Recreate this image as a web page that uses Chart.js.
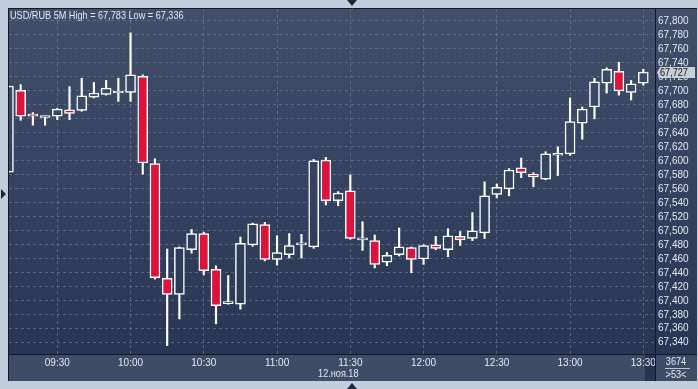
<!DOCTYPE html>
<html>
<head>
<meta charset="utf-8">
<title>USD/RUB 5M</title>
<script src="https://cdn.jsdelivr.net/npm/chart.js@4.4.0/dist/chart.umd.min.js"></script>
<style>
  html, body { margin: 0; padding: 0; background: #c2cedb; }
  #wrap { position: relative; width: 698px; height: 389px; }
</style>
</head>
<body>
<div id="wrap"><canvas id="chart"></canvas></div>
<script>
// 5 minute candles, 12 Nov 2018
const times = ['09:10','09:15','09:20','09:25','09:30','09:35','09:40','09:45','09:50','09:55',
  '10:00','10:05','10:10','10:15','10:20','10:25','10:30','10:35','10:40','10:45','10:50','10:55',
  '11:00','11:05','11:10','11:15','11:20','11:25','11:30','11:35','11:40','11:45','11:50','11:55',
  '12:00','12:05','12:10','12:15','12:20','12:25','12:30','12:35','12:40','12:45','12:50','12:55',
  '13:00','13:05','13:10','13:15','13:20','13:25','13:30'];
const open = [67.584,67.701,67.667,67.662,67.664,67.673,67.672,67.691,67.695,67.697,
  67.698,67.721,67.596,67.432,67.409,67.473,67.496,67.445,67.396,67.395,67.480,67.509,
  67.459,67.466,67.480,67.477,67.601,67.543,67.557,67.487,67.486,67.455,67.466,67.476,
  67.460,67.480,67.473,67.492,67.489,67.497,67.552,67.560,67.590,67.581,67.574,67.608,
  67.610,67.654,67.677,67.711,67.728,67.698,67.711];
const high = [67.707,67.709,67.669,67.664,67.675,67.706,67.718,67.712,67.715,67.718,
  67.783,67.723,67.603,67.474,67.477,67.502,67.498,67.450,67.436,67.491,67.511,67.512,
  67.493,67.496,67.495,67.602,67.605,67.556,67.580,67.513,67.494,67.469,67.504,67.477,
  67.480,67.492,67.503,67.499,67.526,67.570,67.567,67.589,67.604,67.583,67.613,67.620,
  67.690,67.677,67.718,67.733,67.741,67.715,67.731];
const low = [67.584,67.658,67.651,67.651,67.659,67.659,67.671,67.690,67.694,67.685,
  67.685,67.581,67.431,67.336,67.374,67.468,67.437,67.367,67.395,67.388,67.478,67.457,
  67.451,67.461,67.461,67.475,67.537,67.536,67.488,67.472,67.447,67.450,67.464,67.440,
  67.452,67.473,67.463,67.479,67.486,67.489,67.547,67.550,67.576,67.563,67.573,67.579,
  67.608,67.631,67.660,67.697,67.694,67.687,67.708];
const close = [67.707,67.664,67.664,67.662,67.674,67.668,67.693,67.697,67.704,67.697,
  67.723,67.597,67.433,67.409,67.476,67.496,67.443,67.393,67.396,67.482,67.510,67.459,
  67.469,67.479,67.480,67.600,67.543,67.554,67.489,67.487,67.452,67.465,67.477,67.459,
  67.479,67.475,67.493,67.487,67.500,67.550,67.562,67.587,67.583,67.577,67.610,67.608,
  67.656,67.674,67.713,67.731,67.700,67.710,67.727];

const timeTicks = ['09:30','10:00','10:30','11:00','11:30','12:00','12:30','13:00','13:30'];
const priceTicks = [67.34,67.36,67.38,67.40,67.42,67.44,67.46,67.48,67.50,67.52,67.54,67.56,
  67.58,67.60,67.62,67.64,67.66,67.68,67.70,67.72,67.74,67.76,67.78,67.80];
const title = 'USD/RUB 5M High = 67,783 Low = 67,336';
const dateLabel = '12.ноя.18';
const barCount = '3674';
const visibleCount = '>53<';

const yMin = 67.3239, yMax = 67.8171;
const xMin = 10.22, xMax = 274.79;

const FONT = "'Liberation Sans Narrow', 'Liberation Sans', Arial, sans-serif";
const TEXT = '#e3e8f1';
const RED = '#dc143c';
const PANEL_RIGHT = 697, PANEL_BOTTOM = 381;
const SQUEEZE = 0.83; // the original uses a narrow face

function minutes(t) {
  const p = t.split(':');
  return (+p[0]) * 60 + (+p[1]) - 540;
}
function fmt(v) {
  return v.toFixed(3).replace('.', ',');
}
function plotGradient(ctx, area) {
  const g = ctx.createLinearGradient(0, area.top, 0, area.bottom);
  g.addColorStop(0, '#414f6b');
  g.addColorStop(1, '#283654');
  return g;
}
// narrow text: draw with a horizontal squeeze
function narrowText(ctx, text, x, y, align) {
  ctx.save();
  ctx.translate(x, y);
  ctx.scale(SQUEEZE, 1);
  ctx.textAlign = align;
  ctx.textBaseline = 'middle';
  ctx.fillText(text, 0, 0);
  ctx.restore();
}

const bodies = times.map((t, i) => ({ x: minutes(t), y: [open[i], close[i]] }));
const wicks = times.map((t, i) => ({ x: minutes(t), y: [low[i], high[i]] }));

const frame = {
  id: 'frame',
  beforeDraw(chart) {
    const ctx = chart.ctx, a = chart.chartArea;
    ctx.save();
    ctx.fillStyle = '#c2cedb';
    ctx.fillRect(0, 0, chart.width, chart.height);
    ctx.fillStyle = plotGradient(ctx, a);
    ctx.fillRect(a.left, a.top, PANEL_RIGHT - a.left, a.bottom - a.top);
    ctx.fillStyle = '#3e4c67';
    ctx.fillRect(a.left, a.bottom, PANEL_RIGHT - a.left, PANEL_BOTTOM - a.bottom);
    // scroll thumb under the last bars
    ctx.fillStyle = '#27334f';
    ctx.fillRect(a.right - 10, a.bottom, 10, PANEL_BOTTOM - a.bottom);
    // little arrows on the frame
    ctx.fillStyle = '#1c283f';
    ctx.beginPath();
    ctx.moveTo(347, 0); ctx.lineTo(357, 0); ctx.lineTo(352, 6); ctx.closePath(); ctx.fill();
    ctx.beginPath();
    ctx.moveTo(347, 389); ctx.lineTo(357, 389); ctx.lineTo(352, 383); ctx.closePath(); ctx.fill();
    ctx.beginPath();
    ctx.moveTo(1, 189); ctx.lineTo(6, 194); ctx.lineTo(1, 199); ctx.closePath(); ctx.fill();
    ctx.restore();
  },
  afterDraw(chart) {
    const ctx = chart.ctx, a = chart.chartArea;
    const y = chart.scales.y, x = chart.scales.x;
    ctx.save();
    // borders
    ctx.strokeStyle = '#121826';
    ctx.lineWidth = 1;
    ctx.beginPath();
    ctx.moveTo(a.left - 0.5, a.top - 1); ctx.lineTo(a.left - 0.5, PANEL_BOTTOM);
    ctx.moveTo(a.left - 1, a.top - 0.5); ctx.lineTo(PANEL_RIGHT, a.top - 0.5);
    ctx.moveTo(a.right + 0.5, a.top); ctx.lineTo(a.right + 0.5, PANEL_BOTTOM);
    ctx.moveTo(a.left, a.bottom + 0.5); ctx.lineTo(PANEL_RIGHT, a.bottom + 0.5);
    ctx.stroke();

    ctx.font = '11px ' + FONT;
    ctx.fillStyle = TEXT;
    narrowText(ctx, title, a.left + 1, a.top + 7, 'left');

    // last price marker
    const last = close[close.length - 1];
    const py = Math.round(y.getPixelForValue(last)) + 0.5;
    ctx.fillStyle = '#c9ced7';
    ctx.beginPath();
    ctx.moveTo(a.right + 2, py);
    ctx.lineTo(a.right + 5, py - 5.5);
    ctx.lineTo(PANEL_RIGHT - 2, py - 5.5);
    ctx.lineTo(PANEL_RIGHT - 2, py + 5.5);
    ctx.lineTo(a.right + 5, py + 5.5);
    ctx.closePath();
    ctx.fill();
    ctx.fillStyle = '#14181f';
    narrowText(ctx, fmt(last), a.right + 5, py, 'left');

    // date under the time axis
    ctx.fillStyle = TEXT;
    narrowText(ctx, dateLabel, x.getPixelForValue(minutes('11:30')) - 12, a.bottom + 20, 'center');

    // bar counters in the corner
    const cx = (a.right + PANEL_RIGHT) / 2;
    narrowText(ctx, barCount, cx, a.bottom + 7.5, 'center');
    narrowText(ctx, visibleCount, cx, a.bottom + 20.5, 'center');
    ctx.strokeStyle = '#b9c3d3';
    ctx.beginPath();
    ctx.moveTo(a.right + 10, a.bottom + 14.5); ctx.lineTo(PANEL_RIGHT - 7, a.bottom + 14.5);
    ctx.stroke();
    ctx.restore();
  }
};

new Chart(document.getElementById('chart'), {
  type: 'bar',
  data: {
    datasets: [
      {
        label: 'body',
        data: bodies,
        order: 0,
        grouped: false,
        clip: 0,
        barThickness: 10,
        minBarLength: 2,
        borderWidth: 1.5,
        borderSkipped: false,
        borderColor: '#ffffff',
        backgroundColor: (c) => {
          const i = c.dataIndex;
          if (close[i] < open[i]) return RED;
          const area = c.chart.chartArea;
          if (!area) return '#34425f';
          return plotGradient(c.chart.ctx, area);
        }
      },
      {
        label: 'wick',
        data: wicks,
        order: 1,
        grouped: false,
        clip: 0,
        barThickness: 1.5,
        borderWidth: 0,
        backgroundColor: '#ffffff'
      }
    ]
  },
  options: {
    responsive: true,
    maintainAspectRatio: false,
    animation: false,
    events: [],
    layout: { padding: { left: 9, top: 8, right: 1, bottom: 8 } },
    plugins: { legend: { display: false }, tooltip: { enabled: false }, title: { display: false } },
    scales: {
      x: {
        type: 'linear',
        min: xMin,
        max: xMax,
        offset: false,
        afterBuildTicks: (axis) => { axis.ticks = timeTicks.map(t => ({ value: minutes(t) })); },
        afterFit: (axis) => { axis.height = PANEL_BOTTOM - 354; },
        ticks: {
          autoSkip: false,
          maxRotation: 0,
          padding: 3,
          color: TEXT,
          font: { family: FONT, size: 10 },
          callback: (v) => timeTicks.find(t => minutes(t) === v) || ''
        },
        grid: { color: 'rgba(118,134,164,0.55)', drawTicks: false, offset: false },
        border: { display: false, dash: [3, 3] }
      },
      y: {
        type: 'linear',
        position: 'right',
        min: yMin,
        max: yMax,
        beginAtZero: false,
        afterBuildTicks: (axis) => { axis.ticks = priceTicks.map(v => ({ value: v })); },
        afterFit: (axis) => { axis.width = PANEL_RIGHT - 655; },
        ticks: {
          autoSkip: false,
          padding: 3,
          color: TEXT,
          font: { family: FONT, size: 10 },
          callback: (v) => fmt(v)
        },
        grid: { color: 'rgba(118,134,164,0.55)', drawTicks: false },
        border: { display: false, dash: [3, 3] }
      }
    }
  },
  plugins: [frame]
});
</script>
</body>
</html>
